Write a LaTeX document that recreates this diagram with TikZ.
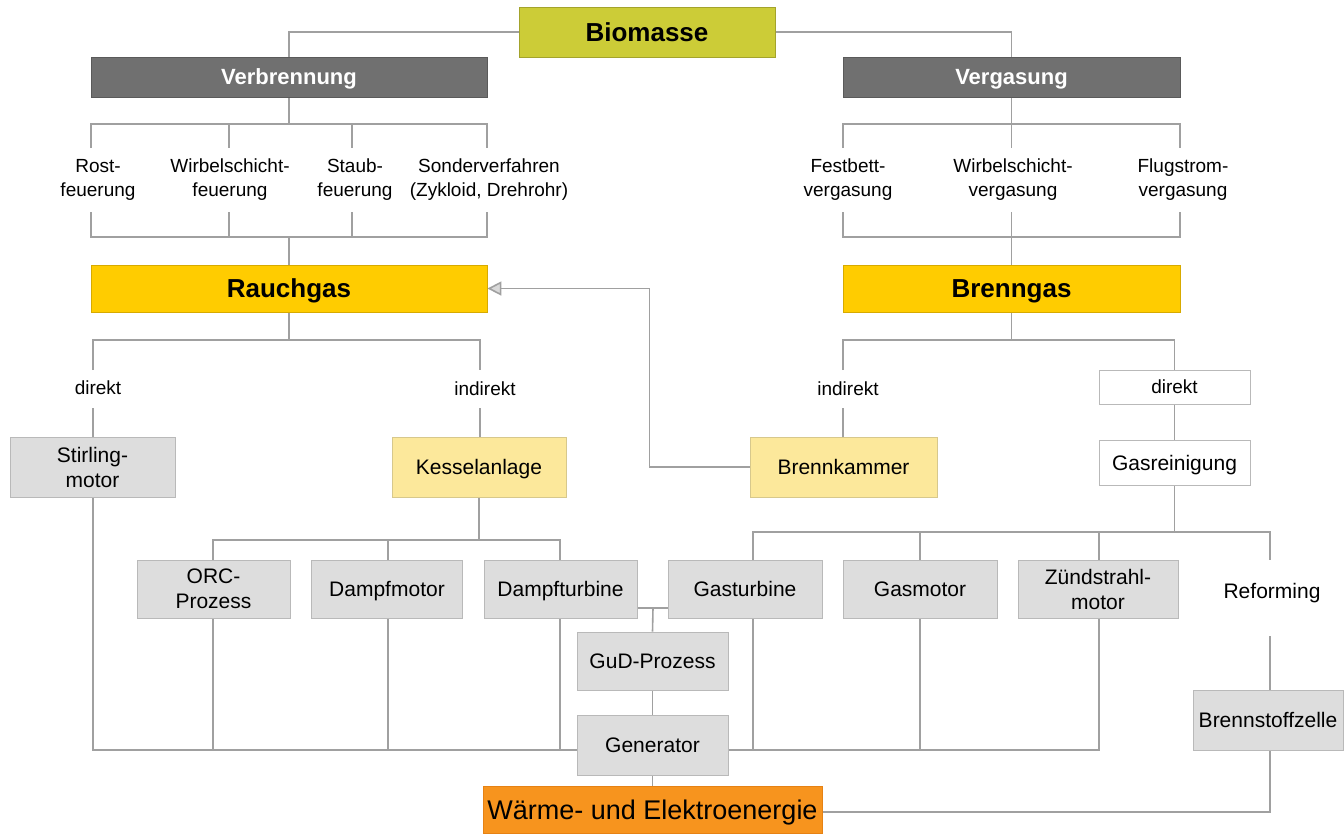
\documentclass[tikz,border=0pt]{standalone}
\usepackage{fontspec}
\setmainfont{Liberation Sans}
\usetikzlibrary{arrows.meta,backgrounds}
\definecolor{lngray}{RGB}{160,160,160}
\definecolor{boxgray}{RGB}{221,221,221}
\definecolor{boxgrayd}{RGB}{185,185,185}
\definecolor{darkbox}{RGB}{112,112,112}
\definecolor{goldbox}{RGB}{255,204,0}
\definecolor{goldd}{RGB}{215,170,0}
\definecolor{lyellow}{RGB}{252,232,155}
\definecolor{lyellowd}{RGB}{215,200,140}
\definecolor{olive}{RGB}{204,204,55}
\definecolor{oranged}{RGB}{230,130,20}
\definecolor{orangebox}{RGB}{247,148,30}
\tikzset{
  ln/.style={draw=lngray, line width=1.6pt},
  base/.style={rectangle, inner sep=0pt, align=center, text depth=0pt, font=\fontsize{21}{25}\selectfont},
  gbox/.style={base, fill=boxgray, draw=boxgrayd, line width=0.8pt},
  ybox/.style={base, fill=lyellow, draw=lyellowd, line width=0.8pt},
  wbox/.style={base, fill=white, draw=boxgrayd, line width=0.6pt},
  goldn/.style={base, fill=goldbox, draw=goldd, line width=0.8pt, font=\fontsize{26}{30}\selectfont\bfseries},
  darkn/.style={base, fill=darkbox, draw=darkbox!80!black, line width=0.8pt, text=white, font=\fontsize{22}{26}\selectfont\bfseries},
  lbl/.style={inner sep=0pt, align=center, font=\fontsize{19}{24}\selectfont},
}
\begin{document}
\begin{tikzpicture}[x=1pt,y=-1pt]
\useasboundingbox (0,0) rectangle (1344,833);
% top level
\node[base, fill=olive, draw=olive!80!black, line width=0.8pt, minimum width=256, minimum height=50, font=\fontsize{26}{30}\selectfont\bfseries] (bio) at (647,32) {Biomasse};
\node[darkn, minimum width=396, minimum height=40] (verb) at (289,77) {Verbrennung};
\node[darkn, minimum width=337, minimum height=40] (verg) at (1011.5,77) {Vergasung};
% combustion types
\node[lbl] (rost) at (98,180) {Rost-\\feuerung};
\node[lbl] (wsf) at (230,180) {Wirbelschicht-\\feuerung};
\node[lbl] (staub) at (355,180) {Staub-\\feuerung};
\node[lbl] (sond) at (489,180) {Sonderverfahren\\(Zykloid, Drehrohr)};
% gasification types
\node[lbl] (fest) at (848,180) {Festbett-\\vergasung};
\node[lbl] (wsv) at (1013,180) {Wirbelschicht-\\vergasung};
\node[lbl] (flug) at (1183,180) {Flugstrom-\\vergasung};
% gases
\node[goldn, minimum width=396, minimum height=47] (rauch) at (289,288.5) {Rauchgas};
\node[goldn, minimum width=337, minimum height=47] (brenn) at (1011.5,288.5) {Brenngas};
% direct/indirect
\node[lbl] (dir1) at (98,388) {direkt};
\node[lbl] (ind1) at (485,389) {indirekt};
\node[lbl] (ind2) at (848,389) {indirekt};
\node[wbox, minimum width=151, minimum height=34, font=\fontsize{19}{24}\selectfont] (dir2) at (1174.5,387) {direkt};
% second row
\node[gbox, minimum width=165, minimum height=60] (stir) at (92.5,467) {Stirling-\\motor};
\node[ybox, minimum width=174, minimum height=60] (kessel) at (479,467) {Kesselanlage};
\node[ybox, minimum width=187, minimum height=60] (bk) at (843.5,467) {Brennkammer};
\node[wbox, minimum width=151, minimum height=45] (gasr) at (1174.5,462.5) {Gasreinigung};
% machines
\node[gbox, minimum width=153, minimum height=58] (orc) at (213.5,589) {ORC-\\Prozess};
\node[gbox, minimum width=151, minimum height=58] (dmot) at (387,589) {Dampfmotor};
\node[gbox, minimum width=153, minimum height=58] (dturb) at (560.5,589) {Dampfturbine};
\node[gbox, minimum width=154, minimum height=58] (gt) at (745,589) {Gasturbine};
\node[gbox, minimum width=154, minimum height=58] (gm) at (920,589) {Gasmotor};
\node[gbox, minimum width=160, minimum height=58] (zs) at (1098,589) {Zündstrahl-\\motor};
\node[base] (ref) at (1272,591) {Reforming};
\node[gbox, minimum width=151, minimum height=58] (gud) at (652.5,661) {GuD-Prozess};
\node[gbox, minimum width=151, minimum height=60] (gen) at (652.5,745) {Generator};
\node[gbox, minimum width=150, minimum height=60] (bsz) at (1268,720) {Brennstoffzelle};
\node[base, fill=orangebox, draw=oranged, line width=0.8pt, minimum width=339, minimum height=47, font=\fontsize{27}{30}\selectfont] (waerme) at (652.5,809.5) {Wärme- und Elektroenergie};
\begin{pgfonlayer}{background}
% top
\draw[ln] (bio.west) -| (verb.north);
\draw[ln] (bio.east) -| (verg.north);
% Verbrennung tree
\draw[ln] (verb.south) -- (289,124);
\draw[ln] (91,148) |- (487,124) -- (487,148);
\draw[ln] (229,124) -- (229,148);
\draw[ln] (352,124) -- (352,148);
\draw[ln] (91,212) |- (487,237) -- (487,212);
\draw[ln] (229,212) -- (229,237);
\draw[ln] (352,212) -- (352,237);
\draw[ln] (289,237) -- (rauch.north);
% Vergasung tree
\draw[ln] (verg.south) -- (1011.5,124);
\draw[ln] (843,148) |- (1180,124) -- (1180,148);
\draw[ln] (1011.5,124) -- (1011.5,148);
\draw[ln] (843,212) |- (1180,237) -- (1180,212);
\draw[ln] (1011.5,212) -- (1011.5,237);
\draw[ln] (1011.5,237) -- (brenn.north);
% Rauchgas tree
\draw[ln] (rauch.south) -- (289,340);
\draw[ln] (93,370) |- (480,340) -- (480,370);
\draw[ln] (93,408) -- (93,437);
\draw[ln] (480,408) -- (480,437);
% Brenngas tree
\draw[ln] (brenn.south) -- (1011.5,340);
\draw[ln] (843,370) |- (1174.5,340) -- (dir2.north);
\draw[ln] (843,408) -- (843,437);
\draw[ln] (dir2.south) -- (gasr.north);
% feedback arrow
\draw[ln, -{Triangle[length=14pt,width=14pt,fill=lngray!40]}] (bk.west) -- ++(-100,0) |- (rauch.east);
% Kessel branch
\draw[ln] (kessel.south) -- (479,540);
\draw[ln] (213,560) |- (560,540) -- (560,560);
\draw[ln] (388,540) -- (388,560);
% Gasreinigung branch
\draw[ln] (gasr.south) -- (1174.5,532);
\draw[ln] (753,560) |- (1270,532) -- (1270,560);
\draw[ln] (920,532) -- (920,560);
\draw[ln] (1099,532) -- (1099,560);
\draw[ln] (1270,636) -- (1270,690);
% GuD
\draw[ln] (637,608) -- (668,608);
\draw[ln] (653,608) -- (gud.north);
\draw[ln] (gud.south) -- (gen.north);
\draw[ln] (gen.south) -- (waerme.north);
% bottom collectors
\draw[ln] (93,497) |- (577,750);
\draw[ln] (213,618) -- (213,750);
\draw[ln] (388,618) -- (388,750);
\draw[ln] (560,618) -- (560,750);
\draw[ln] (728,750) -| (1099,618);
\draw[ln] (753,618) -- (753,750);
\draw[ln] (920,618) -- (920,750);
\draw[ln] (1270,750) |- (822,812);
\end{pgfonlayer}
\end{tikzpicture}
\end{document}
